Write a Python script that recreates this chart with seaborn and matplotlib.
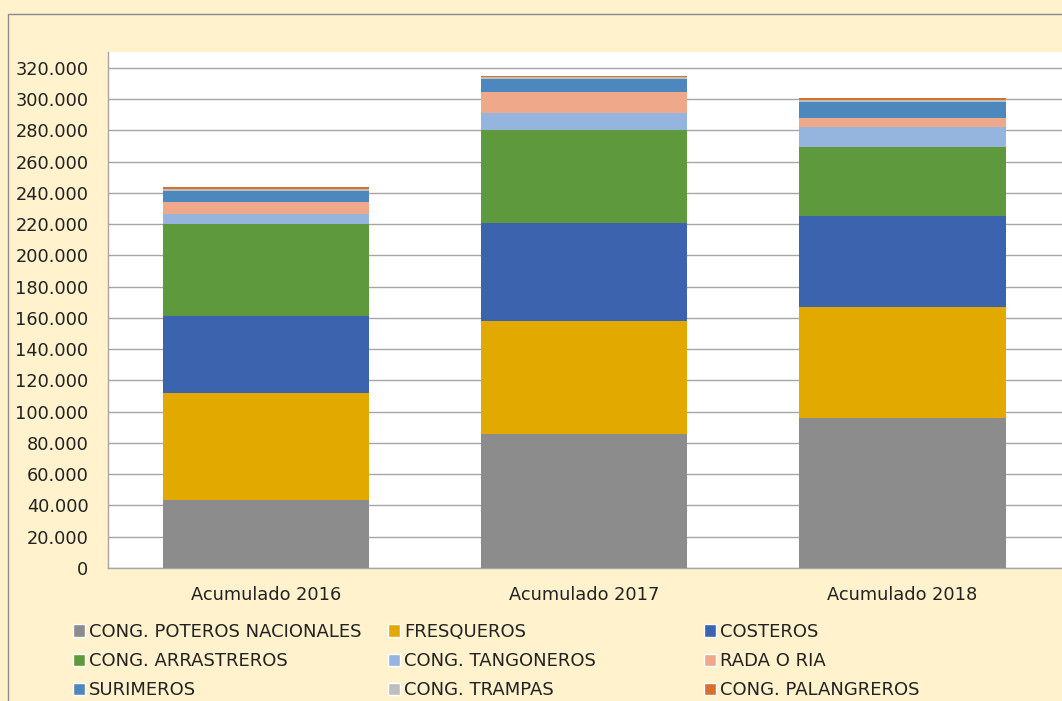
import numpy as np
import pandas as pd
import matplotlib
matplotlib.use("Agg")
import matplotlib.pyplot as plt
import matplotlib.patches as mpatches
from matplotlib.ticker import FuncFormatter
import seaborn as sns

# --- data (units) ---
periods = ["Acumulado 2016", "Acumulado 2017", "Acumulado 2018"]
series = ["CONG. POTEROS NACIONALES", "FRESQUEROS", "COSTEROS",
          "CONG. ARRASTREROS", "CONG. TANGONEROS", "RADA O RIA",
          "SURIMEROS", "CONG. TRAMPAS", "CONG. PALANGREROS"]
poteros     = [43500, 85800, 96000]
fresqueros  = [68500, 72200, 71000]
costeros    = [49000, 62800, 58300]
arrastreros = [59200, 59200, 43900]
tangoneros  = [6400, 11400, 12800]
rada        = [7800, 13200, 6200]
surimeros   = [7100, 8400, 10000]
trampas     = [1100, 1400, 1100]
palangreros = [1200, 300, 1300]

colors = ["#8c8c8c", "#e2aa00", "#3c64ae", "#5f993d", "#95b5de",
          "#f0a88a", "#4c88be", "#bebebe", "#d4712f"]
cream = "#fff2cc"

values = [poteros, fresqueros, costeros, arrastreros, tangoneros,
          rada, surimeros, trampas, palangreros]
df = pd.DataFrame(np.array(values).T, columns=series)
df.insert(0, "periodo", periods)
cum = df[series].cumsum(axis=1)

sns.set_style("white")
plt.rcParams["font.family"] = ["DejaVu Sans"]

fig = plt.figure(figsize=(10.62, 7.01), dpi=100, facecolor=cream)
# axes run a little past the right edge of the figure, like the original
ax = fig.add_axes([108 / 1062, 133 / 701, 1 - 108 / 1062 + 0.01, 516 / 701])
ax.set_facecolor("white")

# stacked bars: draw cumulative totals from the top series down
for name, col in reversed(list(zip(series, colors))):
    sns.barplot(x=df["periodo"], y=cum[name], color=col, width=0.65,
                saturation=1, linewidth=0, edgecolor="none", ax=ax, zorder=3)

ax.set_xlim(-0.497, 2.536)
ax.set_ylim(0, 330200)
ax.set_yticks(np.arange(0, 320001, 20000))
ax.yaxis.set_major_formatter(FuncFormatter(lambda v, p: f"{v:,.0f}".replace(",", ".")))
ax.grid(axis="y", color="#a6a6a6", linewidth=1, zorder=0)
ax.set_axisbelow(True)
ax.set_xlabel("")
ax.set_ylabel("")
ax.tick_params(axis="both", length=0, labelsize=12.8, colors="#222222")
ax.tick_params(axis="y", pad=14)
ax.tick_params(axis="x", pad=13)
for s in ["top", "right"]:
    ax.spines[s].set_visible(False)
for s in ["left", "bottom"]:
    ax.spines[s].set_color("#a6a6a6")
    ax.spines[s].set_linewidth(1)

# outer border of the chart area
fig.patches.append(mpatches.Rectangle((8 / 1062, -0.5), 2, 0.5 + (701 - 14) / 701,
                                      transform=fig.transFigure, fill=False,
                                      edgecolor="#8c8c8c", linewidth=1))

# legend: three columns of three entries
col_x = [73 / 1062, 388 / 1062, 704 / 1062]
for c in range(3):
    handles = [mpatches.Patch(facecolor=colors[c + 3 * r], label=series[c + 3 * r])
               for r in range(3)]
    fig.legend(handles=handles, loc="upper left",
               bbox_to_anchor=(col_x[c], (701 - 623) / 701),
               frameon=False, fontsize=13, handlelength=0.65, handleheight=0.7,
               handletextpad=0.25, labelspacing=0.62, borderpad=0,
               borderaxespad=0, labelcolor="#222222")

fig.savefig("out.png", dpi=100, facecolor=cream)
